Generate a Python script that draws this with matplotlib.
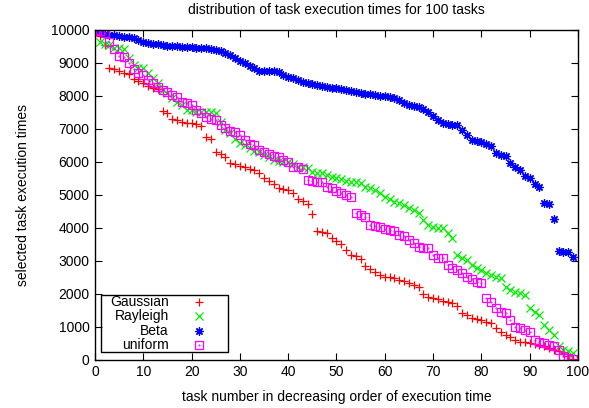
import numpy as np
import matplotlib
matplotlib.use("Agg")
import matplotlib.pyplot as plt
from matplotlib.patches import Rectangle

plt.rcParams['font.family'] = ['Liberation Sans', 'DejaVu Sans']

tasks = np.arange(100)

gaussian = [10000, 9800, 9550, 8850, 8800, 8750, 8700, 8650, 8500, 8450,
            8380, 8300, 8220, 8200, 7540, 7470, 7290, 7250, 7210, 7180,
            7160, 7130, 7080, 6750, 6690, 6300, 6230, 6140, 5960, 5930,
            5880, 5850, 5780, 5750, 5650, 5500, 5420, 5320, 5200, 5170,
            5140, 5050, 4870, 4820, 4720, 4410, 3900, 3860, 3830, 3690,
            3610, 3500, 3320, 3170, 3150, 3050, 2850, 2750, 2670, 2570,
            2520, 2500, 2480, 2420, 2390, 2320, 2260, 2210, 1990, 1910,
            1870, 1840, 1790, 1760, 1720, 1630, 1410, 1350, 1260, 1230,
            1200, 1150, 1110, 960, 850, 750, 700, 600, 550, 530,
            500, 480, 450, 400, 350, 300, 250, 200, 110, 30]

rayleigh = [10000, 9620, 9570, 9530, 9450, 9450, 9420, 9150, 8930, 8840,
            8840, 8690, 8540, 8380, 8180, 8080, 7930, 7820, 7720, 7570,
            7570, 7520, 7520, 7520, 7520, 7470, 7200, 6960, 6860, 6700,
            6560, 6510, 6400, 6330, 6300, 6200, 6150, 6050, 6020, 6000,
            6000, 5930, 5850, 5850, 5800, 5700, 5650, 5650, 5600, 5550,
            5500, 5470, 5420, 5390, 5380, 5350, 5240, 5200, 5140, 5050,
            4940, 4870, 4790, 4740, 4690, 4600, 4540, 4450, 4230, 4080,
            4030, 3990, 3990, 3840, 3690, 3170, 3080, 3020, 2870, 2780,
            2720, 2630, 2570, 2520, 2470, 2210, 2110, 2060, 2020, 1960,
            1570, 1450, 1350, 1050, 900, 750, 400, 300, 250, 200]

beta = [10000, 9920, 9880, 9850, 9830, 9800, 9790, 9780, 9760, 9700,
        9640, 9600, 9580, 9560, 9530, 9500, 9500, 9500, 9490, 9480,
        9470, 9460, 9450, 9440, 9410, 9380, 9340, 9290, 9220, 9140,
        9060, 8990, 8900, 8840, 8760, 8750, 8750, 8740, 8730, 8620,
        8580, 8540, 8480, 8420, 8380, 8350, 8330, 8300, 8270, 8240,
        8220, 8200, 8170, 8140, 8110, 8080, 8060, 8050, 8030, 8000,
        7990, 7950, 7920, 7860, 7790, 7720, 7680, 7660, 7600, 7520,
        7380, 7260, 7180, 7140, 7120, 7100, 6960, 6800, 6670, 6640,
        6610, 6550, 6480, 6260, 6210, 6180, 5970, 5850, 5760, 5570,
        5500, 5320, 5230, 4750, 4720, 4260, 3300, 3270, 3250, 3100]

uniform = [10000, 9950, 9900, 9640, 9420, 9200, 9180, 9000, 8800, 8700,
           8630, 8480, 8380, 8270, 8170, 8120, 8020, 7950, 7820, 7790,
           7720, 7570, 7490, 7360, 7290, 7260, 7110, 7030, 6930, 6900,
           6810, 6660, 6540, 6510, 6360, 6300, 6230, 6170, 6150, 6050,
           6000, 5850, 5850, 5780, 5450, 5420, 5390, 5390, 5240, 5200,
           5120, 5060, 4990, 4940, 4450, 4380, 4330, 4080, 4050, 4030,
           3960, 3930, 3910, 3780, 3750, 3630, 3540, 3420, 3380, 3380,
           3170, 3080, 3080, 2870, 2780, 2720, 2630, 2520, 2450, 2360,
           2330, 1870, 1760, 1570, 1450, 1410, 1200, 1000, 960, 900,
           850, 600, 550, 520, 450, 400, 300, 100, 50, 30]

labels = ["Gaussian", "Rayleigh", "Beta", "uniform"]
colors = ["#ff0000", "#00ee00", "#0000ff", "#ff00ff"]
markers = ["+", "x", (8, 2, 0), "s"]

fig = plt.figure(figsize=(5.89, 4.08), dpi=100)
ax = fig.add_axes([0.1613, 0.1184, 0.82, 0.8088])

series = [gaussian, rayleigh, beta, uniform]
for vals, c, m in zip(series, colors, markers):
    if m == "s":
        ax.plot(tasks, vals, linestyle="none", marker="s", markersize=5.5,
                markerfacecolor="none", markeredgecolor=c, markeredgewidth=0.9)
        ax.plot(tasks, vals, linestyle="none", marker=".", markersize=1,
                color=c)
    else:
        ax.plot(tasks, vals, linestyle="none", marker=m, markersize=6,
                color=c, markeredgewidth=0.9)

ax.set_xlim(0, 100)
ax.set_ylim(0, 10000)
ax.set_xticks(np.arange(0, 101, 10))
ax.set_yticks(np.arange(0, 10001, 1000))
ax.tick_params(direction="in", top=True, right=True, length=5, width=0.8,
               labelsize=10, pad=4)
for s in ax.spines.values():
    s.set_linewidth(1.0)

ax.set_title("distribution of task execution times for 100 tasks", fontsize=10, pad=11)
ax.set_xlabel("task number in decreasing order of execution time", fontsize=10, labelpad=8)
ax.set_ylabel("selected task execution times", fontsize=10, labelpad=15)

# legend box drawn by hand, gnuplot style (text right-justified, sample after)
ax.add_patch(Rectangle((0.0124, 0.024), 0.2636, 0.172, transform=ax.transAxes,
                       fill=False, edgecolor="black", linewidth=1.0, zorder=5))
rows = [0.174, 0.132, 0.088, 0.0445]
for lab, c, m, yy in zip(labels, colors, markers, rows):
    ax.text(0.153, yy, lab, transform=ax.transAxes, ha="right", va="center",
            fontsize=10, zorder=6)
    if m == "s":
        ax.plot([0.2153], [yy], transform=ax.transAxes, linestyle="none",
                marker="s", markersize=5.5, markerfacecolor="none",
                markeredgecolor=c, markeredgewidth=0.9, zorder=6)
        ax.plot([0.2153], [yy], transform=ax.transAxes, linestyle="none",
                marker=".", markersize=1, color=c, zorder=6)
    else:
        ax.plot([0.2153], [yy], transform=ax.transAxes, linestyle="none",
                marker=m, markersize=6, color=c, markeredgewidth=0.9, zorder=6)

fig.savefig("out.png", dpi=100)
